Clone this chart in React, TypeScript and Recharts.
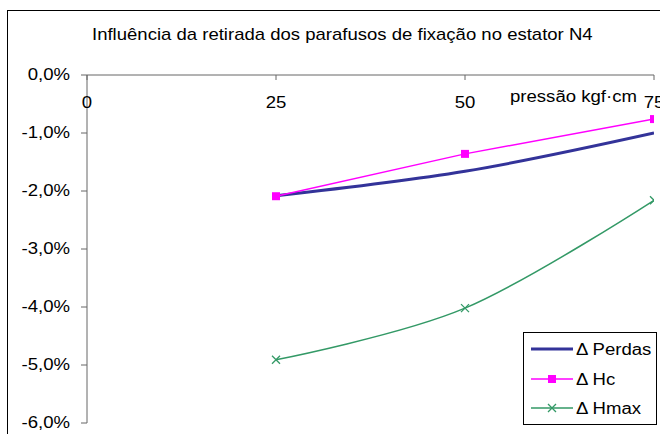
import React from "react";
import { LineChart, Line, XAxis, YAxis, Legend } from "recharts";

// pressure (kgf·cm) and relative changes
const pressures = [25, 50, 75];
const perdas = [-0.0208, -0.0166, -0.01];
const hc = [-0.0209, -0.0136, -0.0076];
const hmax = [-0.0491, -0.0402, -0.0216];

const xTicks = [0, 25, 50, 75];
const yTicks = [0, -0.01, -0.02, -0.03, -0.04, -0.05, -0.06];

const COLORS = {
  perdas: "#333399",
  hc: "#ff00ff",
  hmax: "#339966",
  axis: "#666",
};

const FONT = "'Liberation Sans', Arial, sans-serif";
const STRETCH = 1.16; // text in the original is a bit wide

const data = pressures.map((p, i) => ({
  p,
  perdas: perdas[i],
  hc: hc[i],
  hmax: hmax[i],
}));

const fmtPct = (v: number) =>
  (Math.abs(v) < 1e-9 ? "0,0" : (v * 100).toFixed(1).replace(".", ",")) + "%";

// Excel-like smoothing (Catmull-Rom / cardinal with zero tension)
function smoothCurve(context: any) {
  const k = 1 / 6;
  let x0 = NaN, x1 = NaN, x2 = NaN, y0 = NaN, y1 = NaN, y2 = NaN;
  let pt = 0;
  let line = NaN;
  const seg = (x: number, y: number) => {
    context.bezierCurveTo(
      x1 + k * (x2 - x0),
      y1 + k * (y2 - y0),
      x2 + k * (x1 - x),
      y2 + k * (y1 - y),
      x2,
      y2
    );
  };
  return {
    areaStart() { line = 0; },
    areaEnd() { line = NaN; },
    lineStart() {
      x0 = x1 = x2 = y0 = y1 = y2 = NaN;
      pt = 0;
    },
    lineEnd() {
      if (pt === 2) context.lineTo(x2, y2);
      else if (pt === 3) seg(x1, y1);
      if (line || (line !== 0 && pt === 1)) context.closePath();
      line = 1 - line;
    },
    point(x: number, y: number) {
      x = +x; y = +y;
      if (pt === 0) {
        pt = 1;
        line ? context.lineTo(x, y) : context.moveTo(x, y);
      } else if (pt === 1) {
        pt = 2;
        x1 = x; y1 = y;
      } else {
        pt = 3;
        seg(x, y);
      }
      x0 = x1; x1 = x2; x2 = x;
      y0 = y1; y1 = y2; y2 = y;
    },
  };
}

const SquareDot = (props: any) => {
  const { cx, cy, index } = props;
  if (cx == null || cy == null) return null;
  return <rect key={`sq-${index}`} x={cx - 4} y={cy - 4} width={8} height={8} fill={COLORS.hc} />;
};

const CrossDot = (props: any) => {
  const { cx, cy, index } = props;
  if (cx == null || cy == null) return null;
  return (
    <path
      key={`x-${index}`}
      d={`M${cx - 4},${cy - 4}L${cx + 4},${cy + 4}M${cx - 4},${cy + 4}L${cx + 4},${cy - 4}`}
      stroke={COLORS.hmax}
      strokeWidth={1.3}
      fill="none"
    />
  );
};

// x axis sits on top of the plot, tick marks point down, labels below
const XTick = ({ x, y, payload }: any) => (
  <g>
    <line x1={x} y1={y} x2={x} y2={y + 5} stroke={COLORS.axis} />
    <text
      transform={`translate(${x},${y + 33}) scale(${STRETCH},1)`}
      textAnchor="middle"
      fontSize={16}
      fontFamily={FONT}
      fill="#000"
    >
      {payload.value}
    </text>
  </g>
);

const YTick = ({ x, y, payload }: any) => (
  <text
    transform={`translate(${x},${y}) scale(${STRETCH},1)`}
    textAnchor="end"
    dy="0.33em"
    fontSize={16}
    fontFamily={FONT}
    fill="#000"
  >
    {fmtPct(payload.value)}
  </text>
);

const legendItems = [
  { name: "Perdas", color: COLORS.perdas, width: 3, marker: "none" },
  { name: "Hc", color: COLORS.hc, width: 1.5, marker: "square" },
  { name: "Hmax", color: COLORS.hmax, width: 1.5, marker: "cross" },
];

const renderLegend = () => (
  <div
    style={{
      width: 132,
      height: 91,
      border: "1px solid #000",
      background: "#fff",
      position: "relative",
      fontFamily: FONT,
      fontSize: 16,
      color: "#000",
    }}
  >
    {legendItems.map((it, i) => (
      <div key={it.name}>
        <svg
          width={44}
          height={12}
          style={{ position: "absolute", left: 6, top: 10 + i * 29.5 }}
        >
          <line x1={1} y1={6} x2={43} y2={6} stroke={it.color} strokeWidth={it.width} />
          {it.marker === "square" && <rect x={18} y={2} width={8} height={8} fill={it.color} />}
          {it.marker === "cross" && (
            <path d="M18,2L26,10M18,10L26,2" stroke={it.color} strokeWidth={1.3} />
          )}
        </svg>
        <span
          style={{
            position: "absolute",
            left: 52,
            top: 7 + i * 29.5,
            lineHeight: "20px",
            whiteSpace: "nowrap",
            transform: `scaleX(${STRETCH})`,
            transformOrigin: "left center",
          }}
        >
          Δ {it.name}
        </span>
      </div>
    ))}
  </div>
);

export default function App() {
  return (
    <div
      style={{
        position: "fixed",
        left: 0,
        top: 0,
        width: 660,
        height: 434,
        overflow: "hidden",
        background: "#fff",
        fontFamily: FONT,
      }}
    >
      {/* outer chart frame */}
      <div
        style={{
          position: "absolute",
          left: 7,
          top: 10,
          width: 720,
          height: 500,
          border: "1px solid #000",
        }}
      />
      <div
        style={{
          position: "absolute",
          left: 92,
          top: 25,
          fontSize: 17,
          lineHeight: "20px",
          whiteSpace: "nowrap",
          color: "#000",
          transform: "scaleX(1.09)",
          transformOrigin: "left center",
        }}
      >
        Influência da retirada dos parafusos de fixação no estator N4
      </div>
      <div style={{ position: "absolute", left: 0, top: 0 }}>
        <LineChart
          width={720}
          height={470}
          data={data}
          margin={{ top: 45, left: 27, right: 66, bottom: 47 }}
        >
          <XAxis
            dataKey="p"
            type="number"
            domain={[0, 75]}
            ticks={xTicks}
            orientation="top"
            height={30}
            tickSize={0}
            tickMargin={0}
            tickLine={false}
            tick={<XTick />}
            stroke={COLORS.axis}
            interval={0}
            allowDataOverflow
          />
          <YAxis
            type="number"
            domain={[-0.06, 0]}
            ticks={yTicks}
            width={60}
            tickSize={6}
            tickMargin={11}
            tick={<YTick />}
            stroke={COLORS.axis}
            interval={0}
          />
          <Legend
            layout="vertical"
            align="center"
            verticalAlign="middle"
            content={renderLegend}
            wrapperStyle={{ left: 523, top: 332, width: 134, height: 93 }}
          />
          <Line
            dataKey="perdas"
            type={smoothCurve as any}
            stroke={COLORS.perdas}
            strokeWidth={3}
            dot={false}
            isAnimationActive={false}
          />
          <Line
            dataKey="hc"
            type="linear"
            stroke={COLORS.hc}
            strokeWidth={1.5}
            dot={<SquareDot />}
            isAnimationActive={false}
          />
          <Line
            dataKey="hmax"
            type={smoothCurve as any}
            stroke={COLORS.hmax}
            strokeWidth={1.5}
            dot={<CrossDot />}
            isAnimationActive={false}
          />
        </LineChart>
      </div>
      <div
        style={{
          position: "absolute",
          left: 510,
          top: 87,
          fontSize: 16,
          lineHeight: "20px",
          whiteSpace: "nowrap",
          color: "#000",
          transform: `scaleX(${STRETCH})`,
          transformOrigin: "left center",
        }}
      >
        pressão kgf·cm
      </div>
    </div>
  );
}
